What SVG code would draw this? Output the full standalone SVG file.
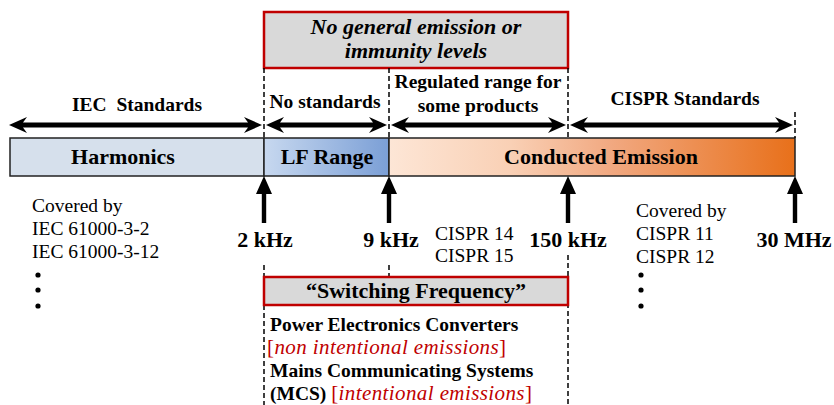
<svg xmlns="http://www.w3.org/2000/svg" width="834" height="405" viewBox="0 0 834 405" font-family="'Liberation Serif', Tinos, 'Times New Roman', 'DejaVu Serif', serif">
<style>
text{font-family:'Liberation Serif',Tinos,'Times New Roman','DejaVu Serif',serif;fill:#000}
.lbl{font-size:19.5px;font-weight:bold}
.bar{font-size:22px;font-weight:bold}
.freq{font-size:22px;font-weight:bold}
.reg{font-size:19.5px}
.red{fill:#c00000}
.note{font-size:21px;letter-spacing:0.4px}
.dash{stroke:#000;stroke-width:1.5;stroke-dasharray:5 3;fill:none}
.arr{fill:#000;stroke:none}
.rbox{fill:#d9d9d9;stroke:#c00000;stroke-width:2.5}
.seg{stroke:#222;stroke-width:1.5}
</style>
<defs>
<linearGradient id="gLF" x1="0" x2="1" y1="0" y2="0">
<stop offset="0" stop-color="#c7d8ef"/>
<stop offset="1" stop-color="#7b9fd6"/>
</linearGradient>
<linearGradient id="gCE" x1="0" x2="1" y1="0" y2="0">
<stop offset="0" stop-color="#fde6d6"/>
<stop offset="0.3" stop-color="#f9d0b5"/>
<stop offset="0.55" stop-color="#f1a880"/>
<stop offset="1" stop-color="#e8701a"/>
</linearGradient>
</defs>

<g id="top-box">
<rect class="rbox" x="264" y="12" width="304" height="56"/>
<text x="416" y="34" text-anchor="middle" font-size="22" font-style="italic" font-weight="bold">No general emission or</text>
<text x="416" y="58" text-anchor="middle" font-size="22" font-style="italic" font-weight="bold">immunity levels</text>
</g>

<g id="range-labels">
<text class="lbl" x="137" y="111" text-anchor="middle">IEC&#160; Standards</text>
<text class="lbl" x="325" y="108" text-anchor="middle">No standards</text>
<text class="lbl" x="478" y="88" text-anchor="middle">Regulated range for</text>
<text class="lbl" x="478" y="112" text-anchor="middle">some products</text>
<text class="lbl" x="685" y="105" text-anchor="middle">CISPR Standards</text>
</g>

<g id="harmonics">
<rect class="seg" x="10" y="138" width="254" height="38" fill="#d6e0ec"/>
<text class="bar" x="123" y="164" text-anchor="middle">Harmonics</text>
</g>
<g id="lf-range">
<rect class="seg" x="264" y="138" width="125" height="38" fill="url(#gLF)"/>
<text class="bar" x="327" y="164" text-anchor="middle">LF Range</text>
</g>
<g id="conducted-emission">
<rect class="seg" x="389" y="138" width="406" height="38" fill="url(#gCE)"/>
<text class="bar" x="601" y="164" text-anchor="middle">Conducted Emission</text>
</g>

<g id="connectors">
<line class="dash" x1="264" y1="68" x2="264" y2="138"/>
<line class="dash" x1="389" y1="68" x2="389" y2="138"/>
<line class="dash" x1="568" y1="68" x2="568" y2="138"/>
<line class="dash" x1="795" y1="112" x2="795" y2="138"/>
<line class="dash" x1="264" y1="265" x2="264" y2="405"/>
<line class="dash" x1="389" y1="265" x2="389" y2="277"/>
<line class="dash" x1="568" y1="255" x2="568" y2="405"/>
<path class="arr" d="M9,125 L27,117 L23,122.5 L248,122.5 L244,117 L262,125 L244,133 L248,127.5 L23,127.5 L27,133 Z"/>
<path class="arr" d="M266,125 L284,117 L280,122.5 L373,122.5 L369,117 L387,125 L369,133 L373,127.5 L280,127.5 L284,133 Z"/>
<path class="arr" d="M391,125 L409,117 L405,122.5 L552,122.5 L548,117 L566,125 L548,133 L552,127.5 L405,127.5 L409,133 Z"/>
<path class="arr" d="M570,125 L588,117 L584,122.5 L779,122.5 L775,117 L793,125 L775,133 L779,127.5 L584,127.5 L588,133 Z"/>
<path class="arr" d="M261.8,223 V194 H256 L264,176 L272,194 H266.2 V223 Z"/>
<path class="arr" d="M386.8,223 V194 H381 L389,176 L397,194 H391.2 V223 Z"/>
<path class="arr" d="M565.8,223 V194 H560 L568,176 L576,194 H570.2 V223 Z"/>
<path class="arr" d="M792.8,223 V194 H787 L795,176 L803,194 H797.2 V223 Z"/>
</g>

<g id="freq-labels">
<text class="freq" x="265" y="247" text-anchor="middle">2 kHz</text>
<text class="freq" x="391" y="247" text-anchor="middle">9 kHz</text>
<text class="freq" x="568" y="247" text-anchor="middle">150 kHz</text>
<text class="freq" x="794" y="247" text-anchor="middle">30 MHz</text>
</g>

<g id="iec-coverage">
<text class="reg" x="32" y="212">Covered by</text>
<text class="reg" x="32" y="235">IEC 61000-3-2</text>
<text class="reg" x="32" y="258">IEC 61000-3-12</text>
<circle cx="38" cy="275" r="2.6"/>
<circle cx="38" cy="290" r="2.6"/>
<circle cx="38" cy="306" r="2.6"/>
</g>

<g id="cispr-products">
<text class="reg" x="435" y="240">CISPR 14</text>
<text class="reg" x="435" y="262">CISPR 15</text>
</g>

<g id="cispr-coverage">
<text class="reg" x="636" y="217">Covered by</text>
<text class="reg" x="636" y="240">CISPR 11</text>
<text class="reg" x="636" y="263">CISPR 12</text>
<circle cx="641" cy="275" r="2.6"/>
<circle cx="641" cy="290" r="2.6"/>
<circle cx="641" cy="306" r="2.6"/>
</g>

<g id="switching-box">
<rect class="rbox" x="264" y="277" width="304" height="28"/>
<text x="416" y="298" text-anchor="middle" font-size="22" font-weight="bold">“Switching Frequency”</text>
</g>

<g id="applications">
<text x="270" y="331" font-size="19.5" font-weight="bold">Power Electronics Converters</text>
<text x="267" y="354" class="red note">[<tspan font-style="italic">non intentional emissions</tspan>]</text>
<text x="270" y="377" font-size="19.5" font-weight="bold">Mains Communicating Systems</text>
<text x="270" y="400" font-size="19.5"><tspan font-weight="bold">(MCS) </tspan><tspan class="red note">[<tspan font-style="italic">intentional emissions</tspan>]</tspan></text>
</g>
</svg>
